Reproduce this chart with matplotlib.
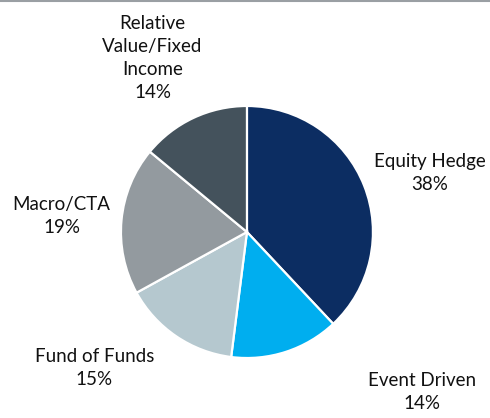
import matplotlib.pyplot as plt

# allocation shares (percent), clockwise from 12 o'clock
labels = ["Equity Hedge", "Event Driven", "Fund of Funds", "Macro/CTA",
          "Relative\nValue/Fixed\nIncome"]
shares = [38, 14, 15, 19, 14]
colors = ["#0c2d62", "#00aeef", "#b5c8cf", "#939a9f", "#44525c"]

# where each label sits (data units, pie radius = 1)
label_pos = [(1.45, 0.47), (1.39, -1.27), (-1.21, -1.08), (-1.47, 0.13), (-0.75, 1.38)]

plt.rcParams['font.family'] = ['Lato', 'DejaVu Sans']

fig = plt.figure(figsize=(4.9, 4.18), dpi=100)
ax = fig.add_axes([0, 0, 1, 1])

ax.pie(shares, colors=colors, startangle=90, counterclock=False,
       wedgeprops=dict(edgecolor="white", linewidth=1.6))

for lab, val, (x, y) in zip(labels, shares, label_pos):
    ax.text(x, y, lab + "\n" + str(val) + "%", ha="center", va="center",
            fontsize=13.5, color="#111111", linespacing=1.42)

ax.set_xlim(-1.960, 1.929)
ax.set_ylim(-1.476, 1.841)
ax.set_aspect("auto")
ax.axis("off")

# thin rule along the top edge
fig.add_artist(plt.Line2D([0, 1], [0.997, 0.997], color="#9a9fa3", linewidth=1.5,
                          transform=fig.transFigure))

plt.savefig("out.png", dpi=100)
